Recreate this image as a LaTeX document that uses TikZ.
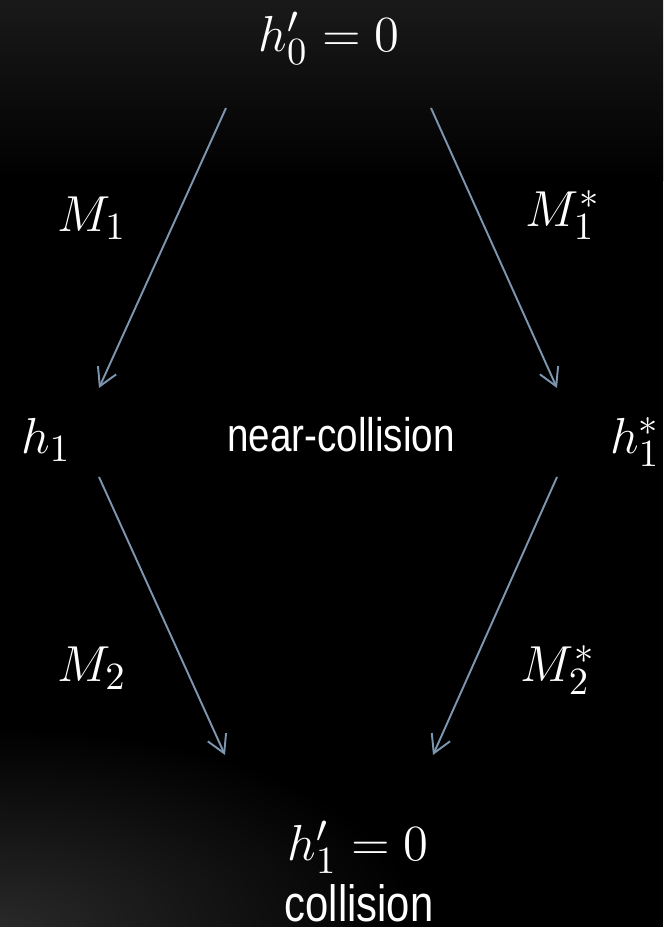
\documentclass[tikz,border=0pt]{standalone}
\usepackage{fontspec}
\setmainfont{Liberation Sans}
\newfontfamily\narrowsf[FakeStretch=0.82]{Liberation Sans}
\usetikzlibrary{arrows.meta}
\definecolor{arrowblue}{RGB}{125,150,175}
\begin{document}
\begin{tikzpicture}[x=0.01cm, y=-0.01cm, >={Straight Barb[length=5pt, width=5.7pt]},
  mathlbl/.style={text=white, font=\fontsize{15}{17}\selectfont, inner sep=0pt},
  txtlbl/.style={text=white, font=\narrowsf\fontsize{13.4}{15}\selectfont, inner sep=0pt},
  flow/.style={->, draw=arrowblue, line width=0.55pt}]

% background
\fill[black] (0,0) rectangle (663,927);
\shade[top color=black!90!white, bottom color=black] (0,0) rectangle (663,180);
\begin{scope}
  \clip (0,0) rectangle (663,927);
  \shade[inner color=black!84!white, outer color=black] (0,927) ellipse (420 and 200);
\end{scope}
\useasboundingbox (0,0) rectangle (663,927);

\node[mathlbl] (h0) at (329,38) {$h'_0 = 0$};
\node[mathlbl] (m1) at (92,218) {$M_1$};
\node[mathlbl] (m1s) at (563,215) {$M_1^*$};
\node[mathlbl] (h1) at (46,440) {$h_1$};
\node[txtlbl] (near) at (341,435) {near-collision};
\node[mathlbl] (h1s) at (635,442) {$h_1^*$};
\node[mathlbl] (m2) at (92,668) {$M_2$};
\node[mathlbl] (m2s) at (558,670) {$M_2^*$};
\node[mathlbl] (h1p) at (358,847) {$h'_1 = 0$};
\node[txtlbl, font=\narrowsf\fontsize{14.5}{16}\selectfont, anchor=base] (coll) at (359,921) {collision};

\coordinate (lt1) at (226,108);
\coordinate (lt2) at (99,388);
\coordinate (rt1) at (431,108);
\coordinate (rt2) at (557,388);
\coordinate (lb1) at (99,477);
\coordinate (lb2) at (225,755);
\coordinate (rb1) at (557,477);
\coordinate (rb2) at (433,755);

\draw[flow] (lt1) -- (lt2);
\draw[flow] (rt1) -- (rt2);
\draw[flow] (lb1) -- (lb2);
\draw[flow] (rb1) -- (rb2);
\end{tikzpicture}
\end{document}
